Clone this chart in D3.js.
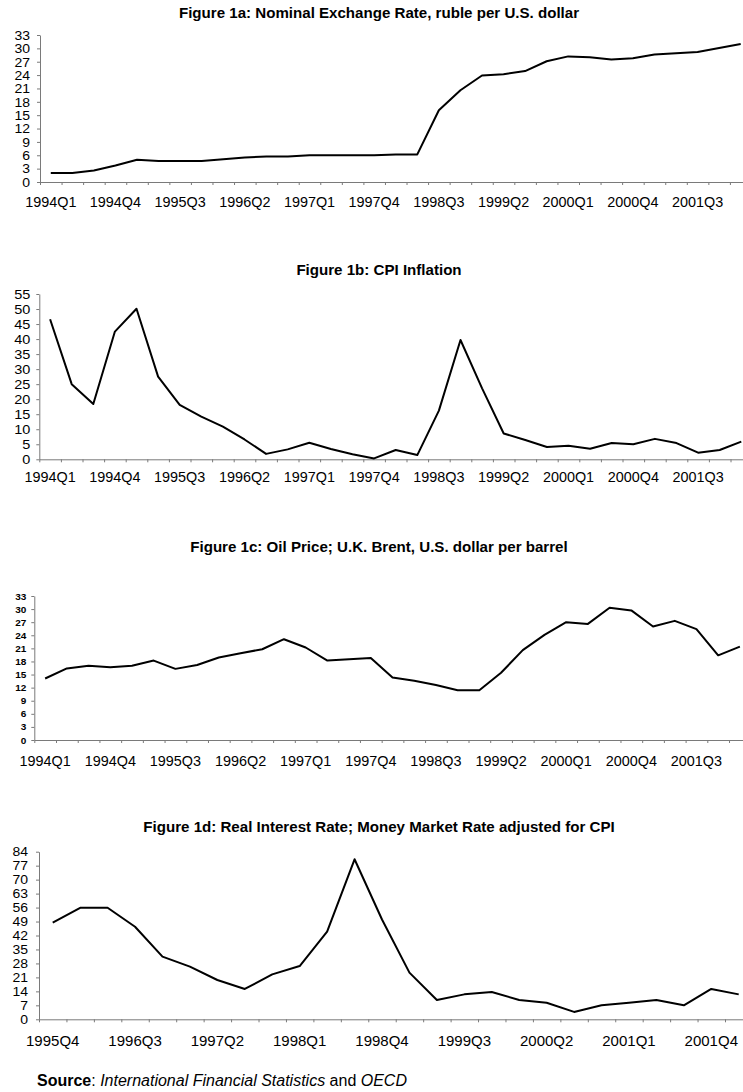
<!DOCTYPE html>
<html>
<head>
<meta charset="utf-8">
<script src="https://cdn.jsdelivr.net/npm/d3@7"></script>
<style>
  html, body { margin: 0; padding: 0; background: #fff; }
  svg { display: block; font-family: "Liberation Sans", Arial, sans-serif; }
</style>
</head>
<body>
<svg id="chart" width="743" height="1092"></svg>
<script>
// ---- Data ----
const quarters94 = ["1994Q1","1994Q2","1994Q3","1994Q4","1995Q1","1995Q2","1995Q3","1995Q4",
  "1996Q1","1996Q2","1996Q3","1996Q4","1997Q1","1997Q2","1997Q3","1997Q4",
  "1998Q1","1998Q2","1998Q3","1998Q4","1999Q1","1999Q2","1999Q3","1999Q4",
  "2000Q1","2000Q2","2000Q3","2000Q4","2001Q1","2001Q2","2001Q3","2001Q4","2002Q1"];
const quarters95 = ["1995Q4","1996Q1","1996Q2","1996Q3","1996Q4","1997Q1","1997Q2","1997Q3",
  "1997Q4","1998Q1","1998Q2","1998Q3","1998Q4","1999Q1","1999Q2","1999Q3",
  "1999Q4","2000Q1","2000Q2","2000Q3","2000Q4","2001Q1","2001Q2","2001Q3","2001Q4","2002Q1"];

const exchangeRate = [2.0, 2.0, 2.6, 3.7, 5.0, 4.7, 4.7, 4.7, 5.1, 5.5, 5.7, 5.7, 6.0, 6.0, 6.0, 6.0,
  6.2, 6.2, 16.1, 20.6, 23.9, 24.2, 24.9, 27.1, 28.2, 28.0, 27.5, 27.8, 28.6, 28.9, 29.2, 30.1, 31.0];
const cpiInflation = [46.6, 25.0, 18.4, 42.5, 50.1, 27.5, 18.1, 14.2, 10.9, 6.6, 1.8, 3.3, 5.5, 3.4, 1.7, 0.3,
  3.1, 1.4, 16.2, 39.7, 23.6, 8.6, 6.4, 4.1, 4.5, 3.5, 5.4, 5.0, 6.8, 5.4, 2.2, 3.1, 5.9];
const oilPrice = [14.1, 16.4, 17.0, 16.7, 17.0, 18.2, 16.3, 17.2, 18.9, 19.9, 20.8, 23.1, 21.2, 18.2, 18.5, 18.8,
  14.3, 13.6, 12.6, 11.4, 11.4, 15.4, 20.6, 24.1, 27.0, 26.6, 30.3, 29.7, 26.0, 27.3, 25.4, 19.4, 21.4];
const realInterest = [48.4, 55.9, 55.9, 46.4, 31.4, 26.4, 19.7, 15.2, 22.5, 26.7, 43.9, 80.2, 50.0,
  23.4, 9.7, 12.5, 13.7, 9.7, 8.3, 3.7, 7.0, 8.3, 9.7, 7.0, 15.2, 12.5];

const ticksA = d3.range(0, 34, 3);
const ticksB = d3.range(0, 56, 5);
const ticksC = d3.range(0, 34, 3);
const ticksD = d3.range(0, 85, 7);

const titles = [
  "Figure 1a: Nominal Exchange Rate, ruble per U.S. dollar",
  "Figure 1b: CPI Inflation",
  "Figure 1c: Oil Price; U.K. Brent, U.S. dollar per barrel",
  "Figure 1d: Real Interest Rate; Money Market Rate adjusted for CPI"
];

// ---- Drawing ----
const svg = d3.select("#chart");
const axisColor = "#7a7a7a";

function drawChart(o) {
  const g = svg.append("g");
  const x = d3.scaleBand().domain(o.cats).range(o.xRange).paddingInner(0).paddingOuter(0);
  const xi = d3.scaleLinear().domain([0, o.cats.length]).range(o.xRange);
  const y = d3.scaleLinear().domain([0, o.yMax]).range(o.yRange);
  const y0 = y(0);

  // title
  g.append("text")
    .attr("x", 379).attr("y", o.titleY)
    .attr("text-anchor", "middle")
    .attr("font-weight", "bold")
    .attr("font-size", 15.1)
    .text(o.title);

  // x tick marks (between categories)
  const xa = g.append("g").attr("transform", `translate(0,${y0})`)
    .call(d3.axisBottom(xi).tickValues(d3.range(0, o.cats.length + 1)).tickSize(3).tickSizeOuter(0).tickFormat(""));
  xa.selectAll("path,line").attr("stroke", axisColor);

  // x labels every 3rd category
  const xl = g.append("g").attr("transform", `translate(0,${y0})`)
    .call(d3.axisBottom(x).tickValues(o.cats.filter((d, i) => i % 3 === 0)).tickSize(0));
  xl.select(".domain").remove();
  xl.selectAll("text")
    .attr("y", o.labelBaseline - y0).attr("dy", 0)
    .attr("font-size", o.xFont).attr("fill", "#000")
    .attr("font-family", "Liberation Sans, Arial, sans-serif");

  // y axis
  const ya = g.append("g").attr("transform", `translate(${o.xRange[0]},0)`)
    .call(d3.axisLeft(y).tickValues(o.yTicks).tickSize(3).tickSizeOuter(0).tickPadding(o.yPad));
  ya.selectAll("path,line").attr("stroke", axisColor);
  ya.selectAll("text")
    .attr("font-size", o.yFont).attr("fill", "#000")
    .attr("font-weight", o.yBold ? "bold" : "normal")
    .attr("font-family", "Liberation Sans, Arial, sans-serif")
    .attr("y", 0)
    .attr("dy", "0.36em")
    .attr("transform", `scale(1,${o.yScaleY})`);

  // line
  const line = d3.line()
    .x((d, i) => x(o.cats[i]) + x.bandwidth() / 2)
    .y(d => y(d));
  g.append("path").datum(o.values)
    .attr("fill", "none").attr("stroke", "#000")
    .attr("stroke-width", 2).attr("stroke-linejoin", "round")
    .attr("d", line);
}

drawChart({ cats: quarters94, values: exchangeRate, xRange: [40, 40 + 33 * 21.56], yRange: [182, 35],
  yMax: 33, yTicks: ticksA, yFont: 14, yScaleY: 0.85, yPad: 7, xFont: 14.4,
  title: titles[0], titleY: 18, labelBaseline: 207 });
drawChart({ cats: quarters94, values: cpiInflation, xRange: [39.3, 39.3 + 33 * 21.6], yRange: [459.3, 294],
  yMax: 55, yTicks: ticksB, yFont: 14.5, yScaleY: 0.85, yPad: 6, xFont: 14.4,
  title: titles[1], titleY: 275, labelBaseline: 482 });
drawChart({ cats: quarters94, values: oilPrice, xRange: [34.3, 34.3 + 33 * 21.71], yRange: [740, 596],
  yMax: 33, yTicks: ticksC, yFont: 10, yBold: true, yScaleY: 0.85, yPad: 5, xFont: 14.4,
  title: titles[2], titleY: 552, labelBaseline: 766 });
drawChart({ cats: quarters95, values: realInterest, xRange: [39, 39 + 26 * 27.44], yRange: [1019.3, 851.7],
  yMax: 84, yTicks: ticksD, yFont: 14, yScaleY: 0.85, yPad: 8, xFont: 15,
  title: titles[3], titleY: 832, labelBaseline: 1046 });

// source note
const src = svg.append("text").attr("x", 37).attr("y", 1086).attr("font-size", 16).attr("fill", "#000");
src.append("tspan").attr("font-weight", "bold").text("Source");
src.append("tspan").text(": ");
src.append("tspan").attr("font-style", "italic").text("International Financial Statistics");
src.append("tspan").text(" and ");
src.append("tspan").attr("font-style", "italic").text("OECD");
</script>
</body>
</html>
